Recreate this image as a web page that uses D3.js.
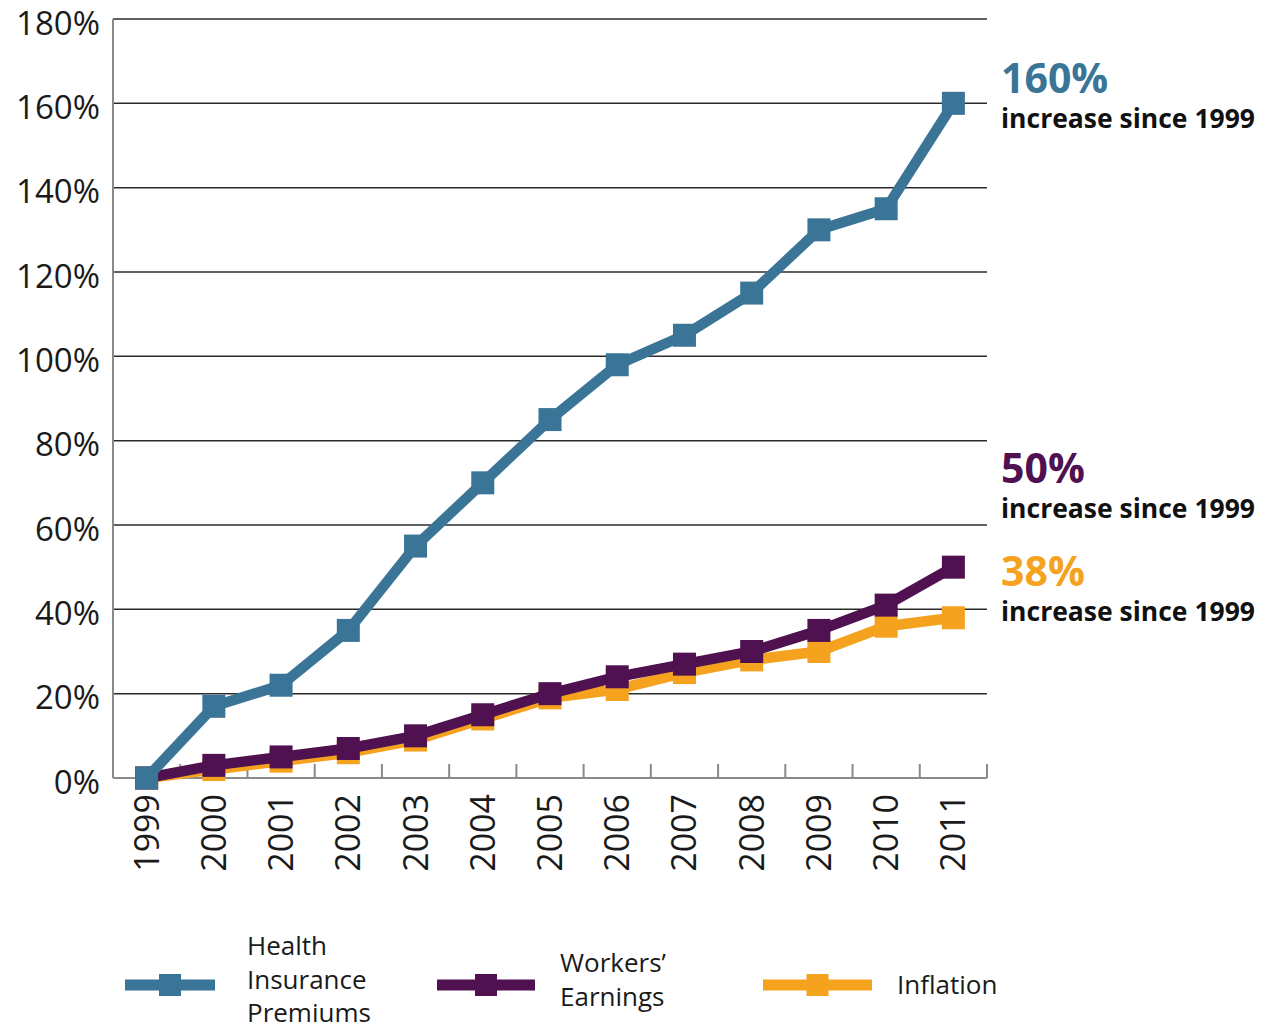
<!DOCTYPE html>
<html>
<head>
<meta charset="utf-8">
<script src="https://cdn.jsdelivr.net/npm/d3@7"></script>
<style>
    body { margin: 0; background: #fff; }
    text { font-family: "Open Sans", sans-serif; }
</style>
</head>
<body>
<div id="chart"></div>
<script>
const years = ["1999", "2000", "2001", "2002", "2003", "2004", "2005", "2006", "2007", "2008", "2009", "2010", "2011"];
const premiums = [0, 17, 22, 35, 55, 70, 85, 98, 105, 115, 130, 135, 160];
const earnings = [0, 3, 5, 7, 10, 15, 20, 24, 27, 30, 35, 41, 50];
const inflation = [0, 2, 4, 6, 9, 14, 19, 21, 25, 28, 30, 36, 38];
const yTicks = [0, 20, 40, 60, 80, 100, 120, 140, 160, 180];

const seriesNames = [["Health", "Insurance", "Premiums"], ["Workers\u2019", "Earnings"], ["Inflation"]];
const seriesColors = ["#3a7598", "#4f1150", "#f5a21f"];
const callouts = ["160%", "50%", "38%"];

const ctx = {
    w: 1262, h: 1030,
    left: 113, right: 987, top: 19, bottom: 778,
    lineW: 10.5, marker: 23
};

function drawChart() {
    let svg = d3.select("#chart").append("svg")
        .attr("width", ctx.w)
        .attr("height", ctx.h);

    let x = d3.scaleBand().domain(years).range([ctx.left, ctx.right]);
    let y = d3.scaleLinear().domain([0, 180]).range([ctx.bottom, ctx.top]);

    // gridlines
    let gridG = svg.append("g");
    gridG.selectAll("line")
        .data(yTicks.filter(d => d > 0))
        .enter()
        .append("line")
        .attr("x1", ctx.left).attr("x2", ctx.right)
        .attr("y1", d => y(d)).attr("y2", d => y(d))
        .attr("stroke", "#2b2b2b")
        .attr("stroke-width", 1.5);

    // y axis labels
    svg.append("g").selectAll("text")
        .data(yTicks)
        .enter()
        .append("text")
        .attr("x", 100)
        .attr("y", d => y(d) + 15.5)
        .attr("text-anchor", "end")
        .style("font-size", "33px")
        .style("fill", "#1a1a1a")
        .text(d => d + "%");

    // axis lines
    svg.append("line")
        .attr("x1", ctx.left).attr("x2", ctx.left)
        .attr("y1", ctx.top).attr("y2", ctx.bottom)
        .attr("stroke", "#8a8a8a").attr("stroke-width", 2);
    svg.append("line")
        .attr("x1", ctx.left).attr("x2", ctx.right)
        .attr("y1", ctx.bottom).attr("y2", ctx.bottom)
        .attr("stroke", "#8a8a8a").attr("stroke-width", 2);

    // x ticks at band boundaries
    svg.append("g").selectAll("line")
        .data(years)
        .enter()
        .append("line")
        .attr("x1", d => x(d) + x.bandwidth()).attr("x2", d => x(d) + x.bandwidth())
        .attr("y1", ctx.bottom).attr("y2", ctx.bottom - 14)
        .attr("stroke", "#8a8a8a").attr("stroke-width", 2);

    // x labels rotated
    svg.append("g").selectAll("text")
        .data(years)
        .enter()
        .append("text")
        .attr("transform", d => "translate(" + (x(d) + x.bandwidth() / 2 + 12) + "," + (ctx.bottom + 16) + ") rotate(-90)")
        .attr("text-anchor", "end")
        .style("font-size", "34px")
        .style("fill", "#1a1a1a")
        .text(d => d);

    let line = d3.line()
        .x((d, i) => x(years[i]) + x.bandwidth() / 2)
        .y(d => y(d));

    let allSeries = [premiums, earnings, inflation];
    // inflation first, then earnings, premiums on top
    [2, 1, 0].forEach(k => {
        let g = svg.append("g");
        g.append("path")
            .attr("d", line(allSeries[k]))
            .attr("fill", "none")
            .attr("stroke", seriesColors[k])
            .attr("stroke-width", ctx.lineW)
            .attr("stroke-linejoin", "round");
        g.selectAll("rect")
            .data(allSeries[k])
            .enter()
            .append("rect")
            .attr("x", (d, i) => x(years[i]) + x.bandwidth() / 2 - ctx.marker / 2)
            .attr("y", d => y(d) - ctx.marker / 2)
            .attr("width", ctx.marker)
            .attr("height", ctx.marker)
            .attr("fill", seriesColors[k]);
    });

    // callouts on the right
    let calloutY = [93, 483, 586];
    callouts.forEach((c, k) => {
        svg.append("text")
            .attr("x", 1001).attr("y", calloutY[k])
            .style("font-size", "41px")
            .style("font-weight", "bold")
            .style("fill", seriesColors[k])
            .text(c);
        svg.append("text")
            .attr("x", 1001).attr("y", calloutY[k] + 35)
            .style("font-size", "26.5px")
            .style("font-weight", "bold")
            .style("fill", "#111")
            .text("increase since 1999");
    });

    // legend
    let legendX = [[125, 215], [437, 535], [763, 872]];
    let legendTextX = [247, 560, 897];
    let legendTextY = [955, 972, 994];
    let legendY = 985;
    seriesNames.forEach((names, k) => {
        let g = svg.append("g");
        g.append("line")
            .attr("x1", legendX[k][0]).attr("x2", legendX[k][1])
            .attr("y1", legendY).attr("y2", legendY)
            .attr("stroke", seriesColors[k])
            .attr("stroke-width", 11);
        let mx = (legendX[k][0] + legendX[k][1]) / 2;
        g.append("rect")
            .attr("x", mx - 11).attr("y", legendY - 11)
            .attr("width", 22).attr("height", 22)
            .attr("fill", seriesColors[k]);
        names.forEach((n, j) => {
            g.append("text")
                .attr("x", legendTextX[k])
                .attr("y", legendTextY[k] + j * 33.5)
                .style("font-size", "26px")
                .style("fill", "#1a1a1a")
                .text(n);
        });
    });
}

drawChart();
</script>
</body>
</html>
